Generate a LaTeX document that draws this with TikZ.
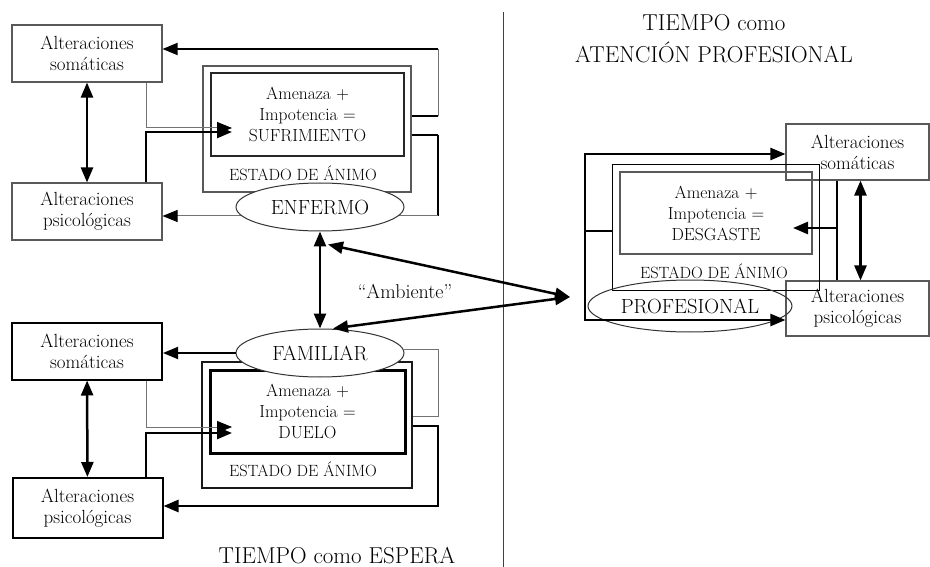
\documentclass[tikz,border=0pt]{standalone}
\usepackage{fontspec}
\usetikzlibrary{arrows.meta, shapes.geometric, calc}

\begin{document}
\begin{tikzpicture}[x=1pt, y=-1pt,
    altbox/.style={rectangle, draw=black!65, line width=1.1pt, minimum width=150pt,
                   minimum height=57pt, inner sep=0pt, align=center,
                   font=\fontsize{19}{21}\selectfont},
    outerbox/.style={rectangle, draw=black!65, line width=1.1pt, minimum width=208pt,
                     minimum height=126pt, inner sep=0pt},
    innerbox/.style={rectangle, draw=black!85, line width=1.1pt, minimum width=193pt,
                     minimum height=83pt, inner sep=0pt, align=center,
                     font=\fontsize{17.5}{21}\selectfont},
    who/.style={ellipse, draw=black!80, line width=1pt, minimum width=168pt,
                minimum height=48pt, inner sep=0pt, font=\fontsize{20.5}{22}\selectfont},
    estado/.style={font=\fontsize{16.3}{18}\selectfont},
    title/.style={font=\fontsize{23}{32}\selectfont, align=center},
    thinline/.style={draw=black!55, line width=1pt},
    midline/.style={draw=black, line width=1.8pt},
    thickline/.style={draw=black, line width=2.5pt},
    arrow/.style={-{Triangle[length=15pt, width=12pt, color=black]}},
    dblarrow/.style={{Triangle[length=15pt, width=12pt]}-{Triangle[length=15pt, width=12pt]}, line width=2.5pt}
]
    \useasboundingbox (0,0) rectangle (930,567);

    % Divider
    \draw[draw=black!75, line width=1pt] (503,12) -- (503,567);

    % Titles
    \node[title] (tEsp) at (337,556) {TIEMPO como ESPERA};
    \node[title] (tAte) at (714,39) {TIEMPO como\\ATENCIÓN PROFESIONAL};

    % ---- Enfermo ----
    \node[altbox] (somE) at (87,53.5) {Alteraciones\\somáticas};
    \node[altbox] (psiE) at (87,211.5) {Alteraciones\\psicológicas};
    \node[outerbox] (estE) at (307,129) {};
    \node[innerbox] (sufE) at (307.5,114.5) {Amenaza +\\Impotencia =\\SUFRIMIENTO};
    \node[estado] (labE) at (303,173) {ESTADO DE ÁNIMO};

    \draw[dblarrow] (somE) -- (psiE);

    \coordinate (e1) at (438,116);
    \coordinate (e2) at (438,49);
    \coordinate (e3) at (438,135);
    \coordinate (e4) at (438,216);
    \draw[midline] (estE.east |- e1) -- (e1);
    \draw[thinline] (e1) -- (e2);
    \draw[midline, arrow] (e2) -- (somE.east |- e2);
    \draw[midline] (estE.east |- e3) -- (e3);
    \draw[thickline] (e3) -- (e4);
    \draw[thinline, arrow] (e4) -- (psiE.east |- e4);

    \coordinate (e5) at (146,128);
    \coordinate (e6) at (146,132);
    \draw[thinline, arrow] (somE.south -| e5) -- (e5) -- (232,128);
    \draw[thickline, arrow] (psiE.north -| e6) -- (e6) -- (232,132);

    \node[who, fill=white] (enf) at (320,207) {ENFERMO};

    % ---- Familiar ----
    \node[altbox, draw=black, line width=2pt] (somF) at (87,351) {Alteraciones\\somáticas};
    \node[altbox, draw=black, line width=2pt, minimum height=60pt] (psiF) at (87.5,508) {Alteraciones\\psicológicas};
    \node[outerbox, draw=black!90, line width=2.5pt, minimum width=210pt] (estF) at (307,425) {};
    \node[innerbox, draw=black, line width=3pt, minimum width=195pt] (dueF) at (307.5,411.5) {Amenaza +\\Impotencia =\\DUELO};
    \node[estado] (labF) at (303,469) {ESTADO DE ÁNIMO};

    \draw[dblarrow] (somF) -- (psiF);

    \coordinate (f1) at (438,349);
    \coordinate (f2) at (438,416);
    \coordinate (f3) at (438,426);
    \coordinate (f4) at (438,506);
    \draw[thinline] (404,349) -- (f1) -- (f2) -- (estF.east |- f2);
    \draw[thickline, arrow] (estF.east |- f3) -- (f3) -- (f4) -- (psiF.east |- f4);

    \coordinate (f5) at (146,427);
    \coordinate (f6) at (146,433);
    \draw[thinline, arrow] (somF.south -| f5) -- (f5) -- (232,427);
    \draw[thickline, arrow] (psiF.north -| f6) -- (f6) -- (232,433);

    \node[who, fill=white] (fam) at (320,353) {FAMILIAR};
    \draw[midline, arrow] (fam.west) -- (somF.east |- fam.west);

    % ---- Profesional ----
    \node[altbox, minimum width=143pt, minimum height=56pt] (somP) at (857.5,152) {Alteraciones\\somáticas};
    \node[altbox, minimum width=143pt, minimum height=55pt] (psiP) at (857.5,308.5) {Alteraciones\\psicológicas};
    \node[outerbox, draw=black, line width=0.9pt, minimum width=207pt] (estP) at (715.5,227) {};
    \node[innerbox, draw=black!65, minimum width=192pt, minimum height=82pt] (desP) at (716,213) {Amenaza +\\Impotencia =\\DESGASTE};
    \node[estado] (labP) at (714,271) {ESTADO DE ÁNIMO};
    \node[who, minimum width=204pt, minimum height=52pt] (prof) at (690,306) {PROFESIONAL};

    \coordinate (p1) at (585,154);
    \coordinate (p2) at (585,320);
    \coordinate (p3) at (585,231);
    \draw[thickline, arrow] (p3) -- (p1) -- (somP.west |- p1);
    \draw[thickline, arrow] (p3) -- (p2) -- (psiP.west |- p2);
    \draw[thickline] (p3) -- (estP.west |- p3);

    \coordinate (p4) at (837,228);
    \draw[thickline] (somP.south -| p4) -- (psiP.north -| p4);
    \draw[thickline, arrow] (p4) -- (793,228);
    \draw[dblarrow] ([xshift=3pt]somP.south) -- ([xshift=3pt]psiP.north);

    % ---- Ambiente ----
    \coordinate (amb) at (570,297);
    \draw[dblarrow] (enf.south) -- (fam.north);
    \draw[dblarrow] ([shift={(8,13)}]enf.south) -- (amb);
    \draw[dblarrow] ([xshift=13pt]fam.north) -- (amb);
    \node[font=\fontsize{20}{22}\selectfont] (ambT) at (405,292) {“Ambiente"};

\end{tikzpicture}
\end{document}
